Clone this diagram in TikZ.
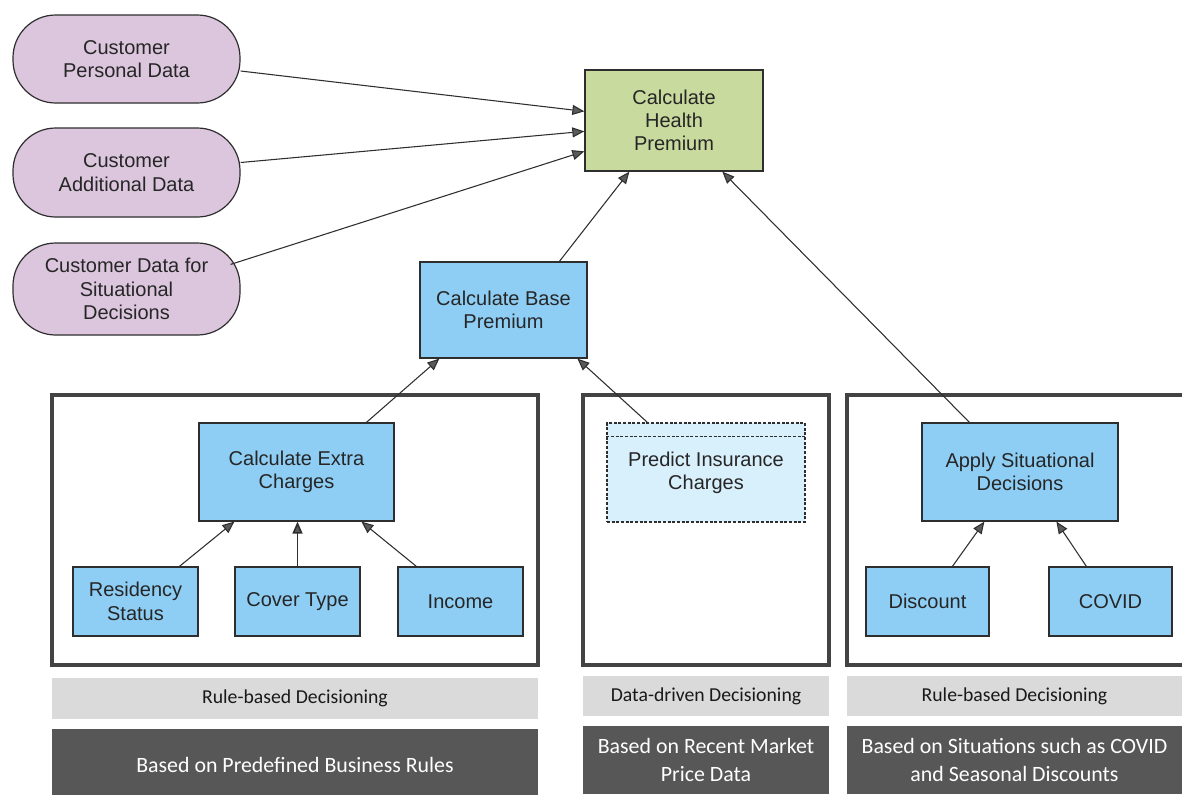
\documentclass[tikz,border=0pt]{standalone}
\usepackage{fontspec}
\setmainfont{Liberation Sans}
\newfontfamily\bandfont{Carlito}
\usetikzlibrary{arrows.meta,calc,fit}

\definecolor{ovalfill}{HTML}{DCC6DE}
\definecolor{bluefill}{HTML}{8ECEF4}
\definecolor{greenfill}{HTML}{C8DA9D}
\definecolor{palefill}{HTML}{D8EFFC}
\definecolor{bandlight}{HTML}{DADADA}
\definecolor{banddark}{HTML}{575757}
\definecolor{edge}{HTML}{2E2E2E}
\definecolor{tipfill}{HTML}{5A5A5A}

\tikzset{
  nodetext/.style={font=\fontsize{15}{17.5}\selectfont, text=black!85},
  tx/.style={label={[align=center, nodetext]center:#1}},
  oval/.style={draw=edge, line width=0.9pt, fill=ovalfill, rounded corners=32pt,
    inner sep=0pt},
  bluebox/.style={draw=edge, line width=0.9pt, fill=bluefill, inner sep=0pt},
  greenbox/.style={draw=edge, line width=1pt, fill=greenfill, inner sep=0pt},
  predbox/.style={draw=edge, dashed, dash pattern=on 2.2pt off 1.3pt, line width=1pt,
    fill=palefill, inner sep=0pt},
  panel/.style={draw=edge!90, line width=2.4pt, inner sep=0pt},
  lightband/.style={fill=bandlight, inner sep=0pt,
    label={[align=center, font=\bandfont\fontsize{14.8}{17}\selectfont, text=black!90]center:#1}},
  darkband/.style={fill=banddark, inner sep=0pt,
    label={[align=center, text=white, font=\bandfont\fontsize{16.4}{21}\selectfont]center:#1}},
  arr/.style={draw=edge, line width=0.8pt,
    -{Triangle[length=9pt,width=7.5pt,fill=tipfill]}},
}

\begin{document}
\begin{tikzpicture}[x=0.75pt,y=-0.75pt]
\useasboundingbox (0,0) rectangle (1182,794);
\clip (0,0) rectangle (1182,794);

% input data
\node[oval, fit={(13,15) (240,103)}, tx={Customer\\Personal Data}] (o1) {};
\node[oval, fit={(13,128) (240,217)}, tx={Customer\\Additional Data}] (o2) {};
\node[oval, fit={(13,243) (240,335)}, tx={Customer Data for\\Situational\\Decisions}] (o3) {};

% top decisions
\node[greenbox, fit={(585,70) (763,171)}, tx={Calculate\\Health\\Premium}] (hp) {};
\node[bluebox, fit={(420,262) (587,358)}, tx={Calculate Base\\Premium}] (bp) {};

% panels
\node[panel, fit={(52,395) (538,665)}] (pl) {};
\node[panel, fit={(583,395) (829,665)}] (pm) {};
\node[panel, fit={(847,395) (1195,665)}] (pr) {};

% left panel contents
\node[bluebox, fit={(199,423) (394,521)}, tx={Calculate Extra\\Charges}] (ext) {};
\node[bluebox, fit={(73,567) (198,636)}, tx={Residency\\Status}] (res) {};
\node[bluebox, fit={(235,567) (360,636)}, tx={Cover Type}] (cov) {};
\node[bluebox, fit={(398,567) (523,636)}, tx={Income}] (inc) {};

% middle panel contents
\node[predbox, fit={(607,423) (805,522)}, tx={Predict Insurance\\Charges}] (pred) {};
\draw[draw=edge, dashed, dash pattern=on 2.2pt off 1.3pt, line width=1pt]
  ($(pred.north west)+(0,14)$) -- ($(pred.north east)+(0,14)$);

% right panel contents
\node[bluebox, fit={(922,423) (1118,521)}, tx={Apply Situational\\Decisions}] (app) {};
\node[bluebox, fit={(866,567) (989,636)}, tx={Discount}] (disc) {};
\node[bluebox, fit={(1049,567) (1172,636)}, tx={COVID}] (covid) {};

% captions under the panels
\node[lightband={Rule-based Decisioning}, fit={(52,678) (538,719)}] (bl1) {};
\node[lightband={Data-driven Decisioning}, fit={(583,676) (829,716)}] (bl2) {};
\node[lightband={Rule-based Decisioning}, fit={(847,676) (1182,716)}] (bl3) {};
\node[darkband={Based on Predefined Business Rules}, fit={(52,729) (538,800)}] (bd1) {};
\node[darkband={Based on Recent Market\\Price Data}, fit={(583,726) (829,794)}] (bd2) {};
\node[darkband={Based on Situations such as COVID\\and Seasonal Discounts}, fit={(847,726) (1182,794)}] (bd3) {};

% connectors
\draw[arr] ($(o1.east)+(0,12)$) -- ($(hp.north west)+(0,42)$);
\draw[arr] ($(o2.east)+(0,-10)$) -- ($(hp.north west)+(0,62)$);
\draw[arr] ($(o3.north east)+(-10,22)$) -- ($(hp.north west)+(0,82)$);
\draw[arr] ($(bp.north west)+(140,0)$) -- ($(hp.south west)+(45,0)$);
\draw[arr] ($(app.north west)+(48,0)$) -- ($(hp.south west)+(138,0)$);
\draw[arr] ($(ext.north west)+(168,0)$) -- ($(bp.south west)+(20,0)$);
\draw[arr] ($(pred.north west)+(41,0)$) -- ($(bp.south west)+(158,0)$);
\draw[arr] ($(res.north west)+(107,0)$) -- ($(ext.south west)+(36,0)$);
\draw[arr, line width=1.2pt] (cov.north) -- (cov.north |- ext.south);
\draw[arr] ($(inc.north west)+(19,0)$) -- ($(ext.south west)+(163,0)$);
\draw[arr] ($(disc.north west)+(87,0)$) -- ($(app.south west)+(63,0)$);
\draw[arr] ($(covid.north west)+(38,0)$) -- ($(app.south west)+(135,0)$);
\end{tikzpicture}
\end{document}
